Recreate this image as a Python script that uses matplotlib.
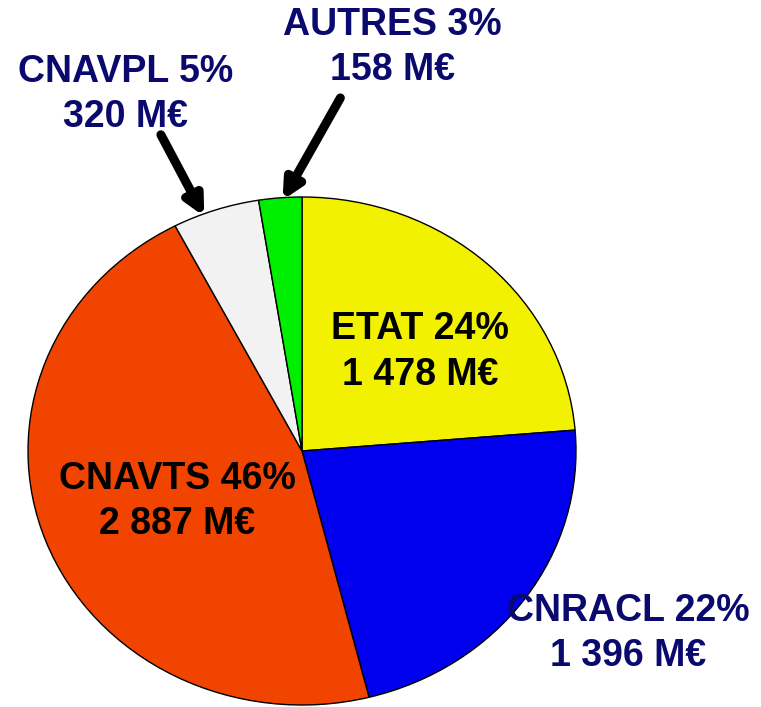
import numpy as np
import matplotlib.pyplot as plt

# financement par regime (M€)
labels = ['ETAT', 'CNRACL', 'CNAVTS', 'CNAVPL', 'AUTRES']
values = [1478, 1396, 2887, 320, 158]
colors = ['#F2F200', '#0000EE', '#F04400', '#F2F2F2', '#00EE00']
text_colors = ['black', '#0A0A6E', 'black', '#0A0A6E', '#0A0A6E']


def fmt_meur(v):
    return '{:,}'.format(v).replace(',', ' ') + ' M€'


def main():
    plt.rcParams['font.family'] = ['Liberation Sans', 'DejaVu Sans']

    fig = plt.figure(figsize=(7.61, 7.07), dpi=100)
    ax = fig.add_axes([0, 0, 1, 1])

    wedges, _ = ax.pie(values, colors=colors, startangle=90, counterclock=False,
                       wedgeprops=dict(edgecolor='black', linewidth=1.0))

    # slightly squashed pie, like the original
    ax.set_aspect('auto')
    ax.set_xlim(-302 / 274, (761 - 302) / 274)
    ax.set_ylim(-256 / 254, 451 / 254)
    ax.axis('off')

    total = sum(values)
    texts = [l + ' ' + str(round(100 * v / total)) + '%\n' + fmt_meur(v)
             for l, v in zip(labels, values)]

    # label positions (data units)
    pos = {
        'ETAT': (0.43, 0.39),
        'CNRACL': (1.19, -0.72),
        'CNAVTS': (-0.455, -0.20),
        'CNAVPL': (-0.645, 1.405),
        'AUTRES': (0.33, 1.59),
    }
    # where along each small slice the arrow points (0 = clockwise edge)
    tip_frac = {'CNAVPL': 0.65, 'AUTRES': 0.45}
    tails = {'CNAVPL': (-0.515, 1.245), 'AUTRES': (0.14, 1.39)}

    for w, t, lab, tc in zip(wedges, texts, labels, text_colors):
        x, y = pos[lab]
        if lab in tails:
            ang = np.deg2rad(w.theta1 + tip_frac[lab] * (w.theta2 - w.theta1))
            tip = (0.99 * np.cos(ang), 0.99 * np.sin(ang))
            ax.annotate('', xy=tip, xytext=tails[lab],
                        arrowprops=dict(arrowstyle='-|>,head_length=1.1,head_width=0.55',
                                        color='black', lw=6.5, shrinkA=0, shrinkB=0))
        ax.text(x, y, t, ha='center', va='center', multialignment='center',
                fontsize=27, fontweight='bold', color=tc, linespacing=1.33)

    fig.savefig('out.png', dpi=100)


if __name__ == '__main__':
    main()
